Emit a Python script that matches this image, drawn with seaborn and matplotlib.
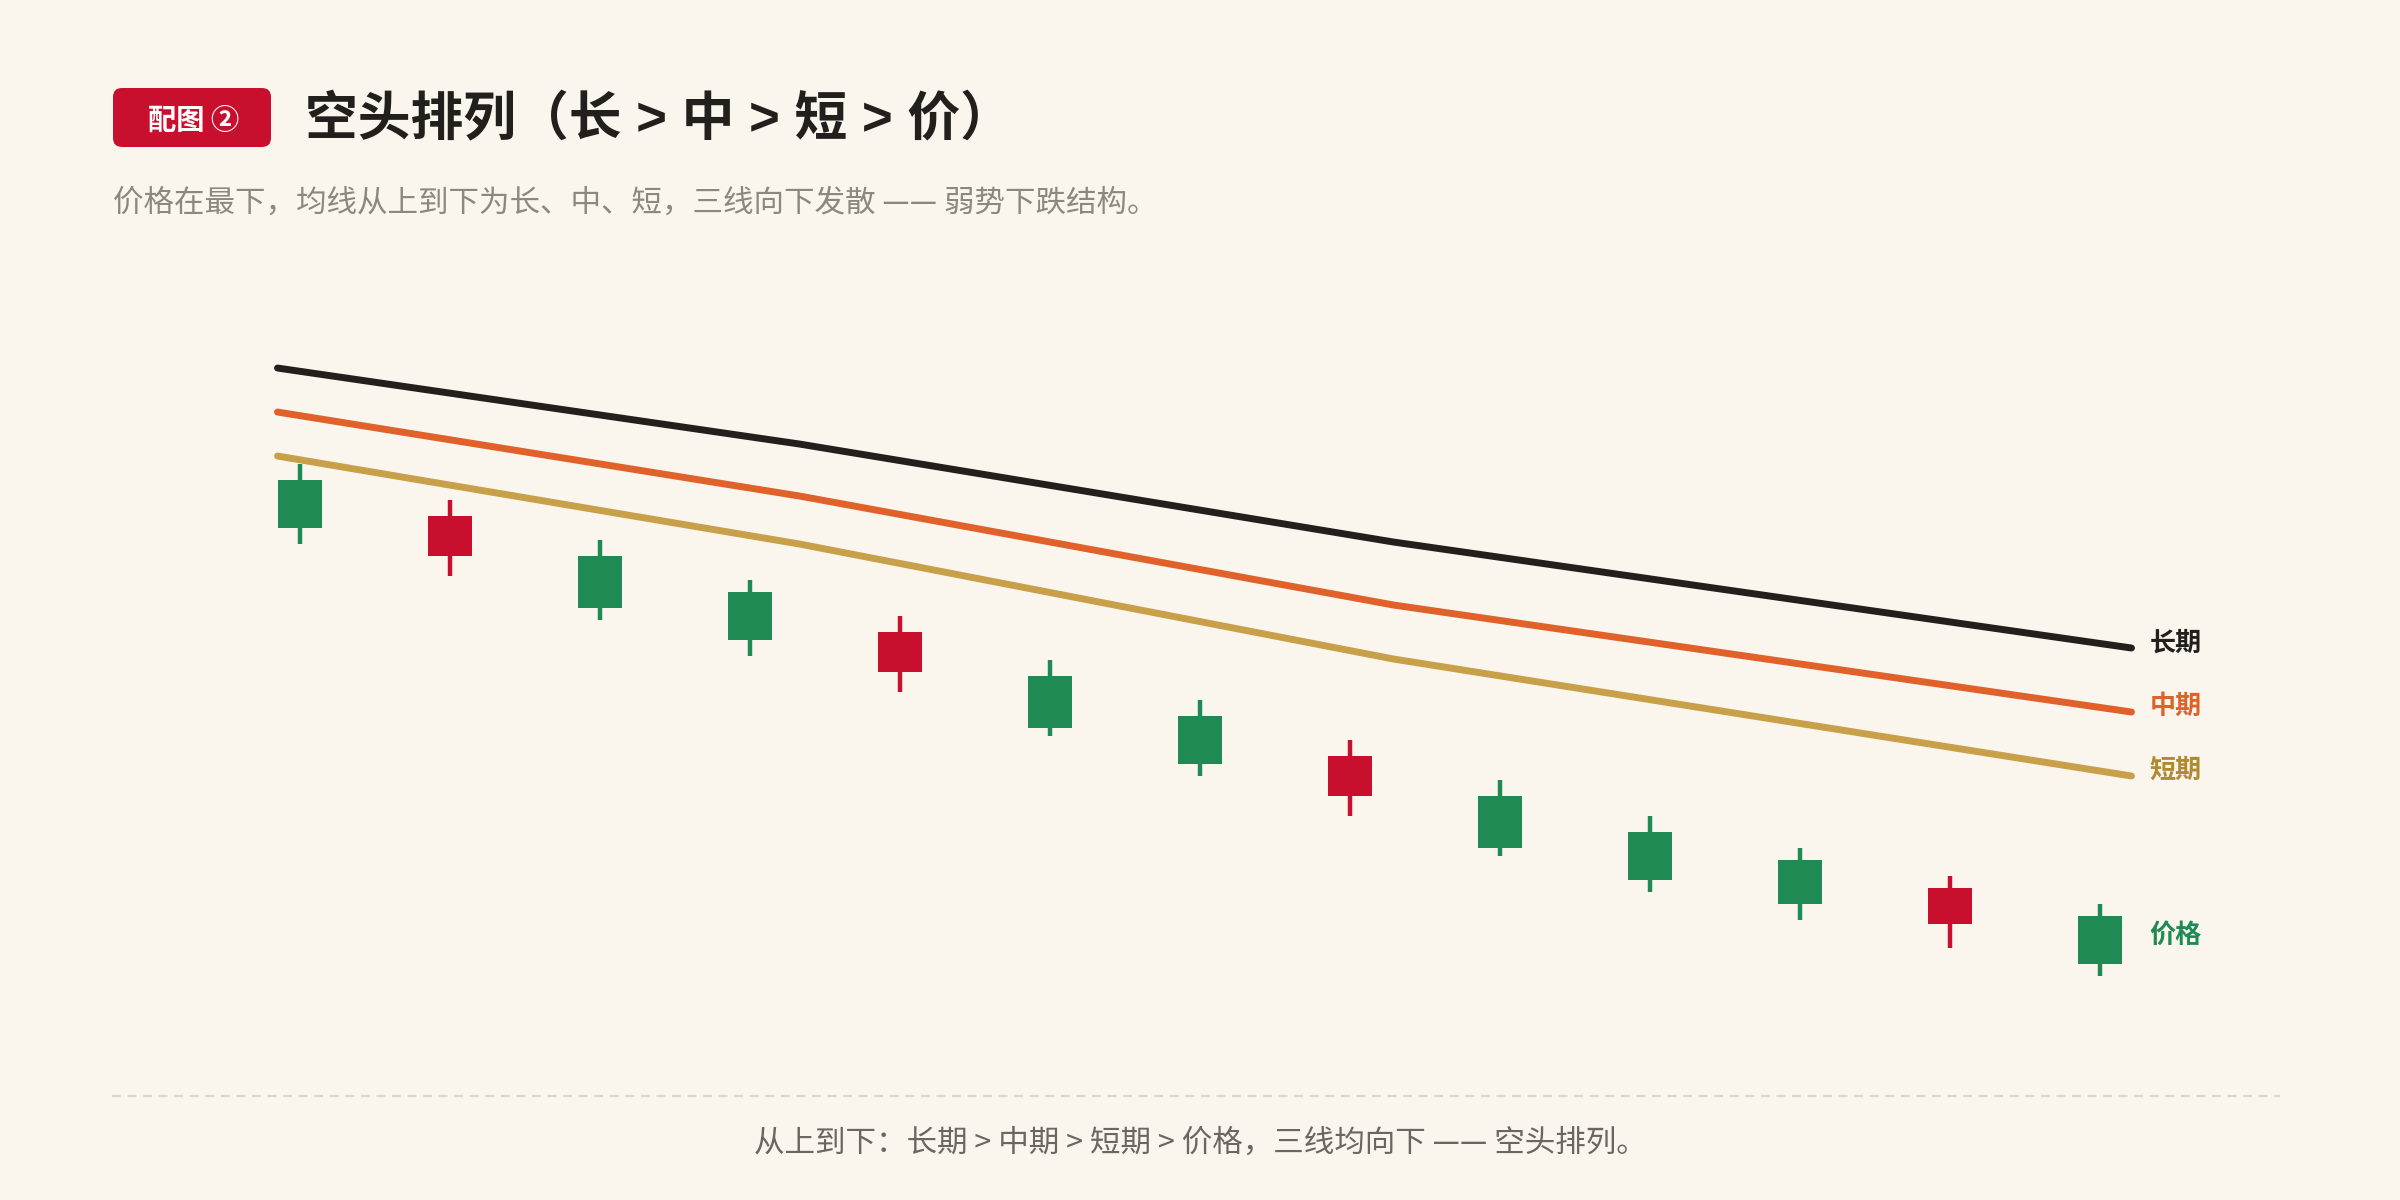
import matplotlib
matplotlib.use("Agg")
import numpy as np
import pandas as pd
import seaborn as sns
import matplotlib.pyplot as plt
from matplotlib.patches import FancyBboxPatch
from matplotlib.lines import Line2D

# candle data (price units)
candle_idx = list(range(13))
opens = [52.0, 44.4, 44.4, 40.8, 32.8, 32.4, 28.4, 20.4, 20.4, 16.8, 14.0, 7.6, 8.4]
closes = [47.2, 48.4, 39.2, 36.0, 36.8, 27.2, 23.6, 24.4, 15.2, 12.0, 9.6, 11.2, 3.6]
highs = [53.6, 50.0, 46.0, 42.0, 38.4, 34.0, 30.0, 26.0, 22.0, 18.4, 15.2, 12.4, 9.6]
lows = [45.6, 42.4, 38.0, 34.4, 30.8, 26.4, 22.4, 18.4, 14.4, 10.8, 8.0, 5.2, 2.4]

# moving-average lines (x in candle index units)
ma_x = [-0.15, 3.33, 7.29, 12.21]
ma_long = [63.2, 55.6, 45.8, 35.2]
ma_mid = [58.8, 50.4, 39.5, 28.8]
ma_short = [54.4, 45.6, 34.1, 22.4]

label_names = ["长期", "中期", "短期", "价格"]
label_y = [35.7, 29.4, 23.0, 6.5]

BG = "#faf6ee"
C_LONG = "#231f1c"
C_MID = "#e0622a"
C_SHORT = "#c9a04a"
C_SHORT_TXT = "#b08a30"
C_UP = "#c8102e"
C_DOWN = "#1f8a54"

sns.set_theme(style="white")
plt.rcParams['font.family'] = ['Noto Sans CJK SC', 'DejaVu Sans']

fig = plt.figure(figsize=(12, 6), dpi=200, facecolor=BG)
ax = fig.add_axes([0.0625, 1 / 6, 0.875, 0.5833])
ax.set_facecolor(BG)

lines = pd.DataFrame({
    "x": ma_x * 3,
    "y": ma_long + ma_mid + ma_short,
    "ma": ["long"] * 4 + ["mid"] * 4 + ["short"] * 4,
})
sns.lineplot(data=lines, x="x", y="y", hue="ma",
             palette={"long": C_LONG, "mid": C_MID, "short": C_SHORT},
             linewidth=2.5, legend=False, ax=ax, zorder=3)
for ln in ax.lines:
    ln.set_linewidth(2.5)
    ln.set_solid_capstyle("round")
    ln.set_solid_joinstyle("round")

colors = [C_UP if c > o else C_DOWN for o, c in zip(opens, closes)]
ax.vlines(candle_idx, lows, highs, colors=colors, linewidth=1.6, zorder=2)
bottoms = [min(o, c) for o, c in zip(opens, closes)]
heights = [abs(c - o) for o, c in zip(opens, closes)]
ax.bar(candle_idx, heights, bottom=bottoms, width=0.293, color=colors,
       linewidth=0, zorder=2)

label_colors = [C_LONG, C_MID, C_SHORT_TXT, C_DOWN]
for name, y, col in zip(label_names, label_y, label_colors):
    ax.text(12.33, y, name, color=col, fontsize=9.4, fontweight="bold",
            ha="left", va="center")

ax.set_xlim(-1, 13)
ax.set_ylim(0, 70)
ax.axis("off")

# header
badge = FancyBboxPatch((0.565, 5.265), 0.79, 0.295,
                       boxstyle="round,pad=0,rounding_size=0.045",
                       transform=fig.dpi_scale_trans, facecolor=C_UP,
                       edgecolor="none")
fig.patches.append(badge)
fig.text(0.0805, 0.8995, "配图 ②", color="white", fontsize=10.2,
         fontweight="bold", ha="center", va="center")
fig.text(0.127, 0.8995, "空头排列（长 > 中 > 短 > 价）", color=C_LONG,
         fontsize=19, fontweight="bold", ha="left", va="center",
         family=['Liberation Sans', 'Noto Sans CJK SC', 'DejaVu Sans'])
fig.text(0.047, 0.831,
         "价格在最下，均线从上到下为长、中、短，三线向下发散 —— 弱势下跌结构。",
         color="#8c877f", fontsize=11.0, ha="left", va="center")

# footer
fig.add_artist(Line2D([0.0467, 0.95], [0.0867, 0.0867], color="#dcd6cc",
                      linewidth=0.8, linestyle=(0, (4, 3))))
fig.text(0.5, 0.0475,
         "从上到下：长期 > 中期 > 短期 > 价格，三线均向下 —— 空头排列。",
         color="#6b6660", fontsize=11.0, ha="center", va="center")

fig.savefig("out.png", dpi=200, facecolor=BG)
